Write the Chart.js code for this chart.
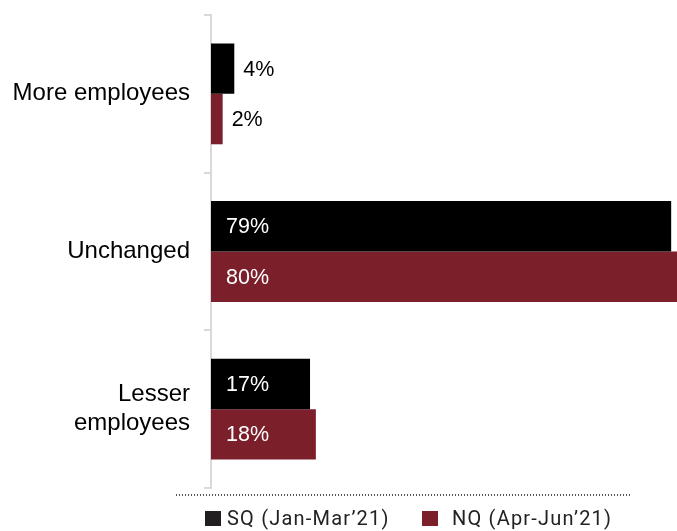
<!DOCTYPE html>
<html>
<head>
<meta charset="utf-8">
<script src="https://cdn.jsdelivr.net/npm/chart.js@4"></script>
<style>
  html, body { margin:0; padding:0; background:#fff; }
  #wrap { position:relative; width:677px; height:531px; overflow:hidden; }
  #c { position:absolute; left:0; top:0; }
  #dots { position:absolute; left:176px; top:494px; width:454px; height:2px;
          background-image: repeating-linear-gradient(to right, #555 0 1.5px, transparent 1.5px 3px); }
  .lg { position:absolute; top:505px; font-family:"Roboto","Liberation Sans",sans-serif; font-size:20px;
        letter-spacing:1.2px; color:#222; line-height:27px; white-space:nowrap; }
  .sw { position:absolute; width:16px; height:15px; top:511px; }
</style>
</head>
<body>
<div id="wrap">
  <canvas id="c" width="677" height="531"></canvas>
  <div id="dots"></div>
  <div id="legend"></div>
</div>
<script>
const categories = [["More employees"], ["Unchanged"], ["Lesser", "employees"]];
const seriesNames = ["SQ (Jan-Mar\u201921)", "NQ (Apr-Jun\u201921)"];
const sqValues = [4, 79, 17];
const nqValues = [2, 80, 18];
const seriesColors = ["#000000", "#7B1F2B"];
const legendSwatchColors = ["#231F20", "#7B1F2B"];

const valueLabels = {
  id: 'valueLabels',
  afterDatasetsDraw(chart) {
    const ctx = chart.ctx;
    ctx.save();
    ctx.font = '21.5px "Liberation Sans", Arial, sans-serif';
    ctx.textBaseline = 'middle';
    ctx.textAlign = 'left';
    chart.data.datasets.forEach((ds, di) => {
      const meta = chart.getDatasetMeta(di);
      meta.data.forEach((bar, i) => {
        const v = ds.data[i];
        const txt = v + '%';
        if (v >= 10) {
          ctx.fillStyle = '#ffffff';
          ctx.fillText(txt, bar.base + 15, bar.y + 1);
        } else {
          ctx.fillStyle = '#000000';
          ctx.fillText(txt, bar.x + 9, bar.y + 1);
        }
      });
    });
    ctx.restore();
  }
};

const chart = new Chart(document.getElementById('c'), {
  type: 'bar',
  data: {
    labels: categories,
    datasets: [
      { label: seriesNames[0], data: sqValues, backgroundColor: seriesColors[0], borderWidth: 0 },
      { label: seriesNames[1], data: nqValues, backgroundColor: seriesColors[1], borderWidth: 0 }
    ]
  },
  options: {
    indexAxis: 'y',
    responsive: false,
    animation: false,
    devicePixelRatio: 1,
    layout: { padding: { left: 13, top: 15, bottom: 43, right: 0 } },
    plugins: { legend: { display: false }, tooltip: { enabled: false } },
    datasets: { bar: { categoryPercentage: 0.64, barPercentage: 1.0 } },
    scales: {
      x: { display: false, min: 0, max: 80 },
      y: {
        offset: true,
        afterFit(scale) { scale.width = 198; scale.paddingTop = 0; scale.paddingBottom = 0; },
        grid: { offset: true, drawOnChartArea: false, drawTicks: true, tickLength: 7, color: '#d9d9d9', lineWidth: 2 },
        border: { display: true, color: '#d9d9d9', width: 2 },
        ticks: { color: '#000', padding: 14, font: { family: '"Liberation Sans", Arial, sans-serif', size: 24 } }
      }
    }
  },
  plugins: [valueLabels]
});

// legend built from series arrays
const lg = document.getElementById('legend');
const swLeft = [205, 422];
const txtLeft = [227, 452];
seriesNames.forEach((n, i) => {
  const sw = document.createElement('div');
  sw.className = 'sw';
  sw.style.left = swLeft[i] + 'px';
  sw.style.background = legendSwatchColors[i];
  lg.appendChild(sw);
  const t = document.createElement('div');
  t.className = 'lg';
  t.style.left = txtLeft[i] + 'px';
  t.textContent = n;
  lg.appendChild(t);
});
</script>
</body>
</html>
